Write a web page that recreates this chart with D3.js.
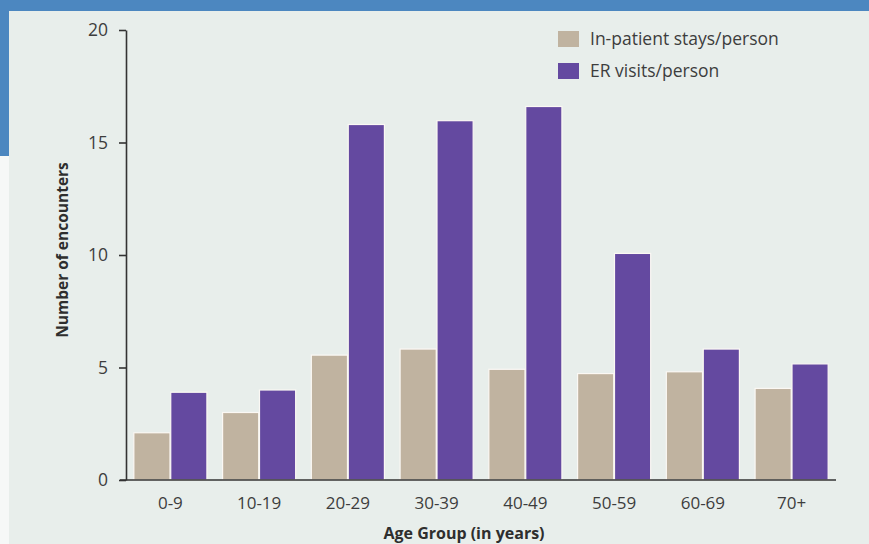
<!DOCTYPE html>
<html>
<head>
<meta charset="utf-8">
<script src="https://cdn.jsdelivr.net/npm/d3@7"></script>
<style>
  html, body { margin: 0; padding: 0; background: #f6f8f7; }
  svg { display: block; }
  text { font-family: "Open Sans", "Noto Sans", sans-serif; }
</style>
</head>
<body>
<svg id="chart" width="869" height="544"></svg>
<script>
// Healthcare encounters per person by age group
const ageGroups = ["0-9", "10-19", "20-29", "30-39", "40-49", "50-59", "60-69", "70+"];
const seriesNames = ["In-patient stays/person", "ER visits/person"];
const inpatientStays = [2.1, 3.0, 5.55, 5.82, 4.92, 4.73, 4.81, 4.07];
const erVisits = [3.9, 4.0, 15.8, 15.97, 16.6, 10.07, 5.82, 5.16];
const yTicks = [0, 5, 10, 15, 20];
const seriesColors = ["#c0b3a0", "#6449a0"];

const svg = d3.select("#chart");
const W = 869, H = 544;

// page frame: light panel with blue edge bands
svg.append("rect").attr("x", 9).attr("y", 0).attr("width", W - 9).attr("height", H).attr("fill", "#e8eeeb");
svg.append("rect").attr("x", 0).attr("y", 0).attr("width", W).attr("height", 11).attr("fill", "#4c87c0");
svg.append("rect").attr("x", 0).attr("y", 0).attr("width", 9).attr("height", 156).attr("fill", "#4c87c0");

const plot = { left: 126, right: 836, top: 30, bottom: 480 };

const x0 = d3.scaleBand().domain(ageGroups).range([plot.left, plot.right])
  .paddingInner(0.16).paddingOuter(0.08);
const x1 = d3.scaleBand().domain(seriesNames).range([0, x0.bandwidth()]).padding(0.02);
const y = d3.scaleLinear().domain([0, 20]).range([plot.bottom, plot.top]);

const rows = ageGroups.map((g, i) => ({ group: g, values: [inpatientStays[i], erVisits[i]] }));

// bars
const groups = svg.append("g").selectAll("g").data(rows).join("g")
  .attr("transform", d => `translate(${x0(d.group)},0)`);
groups.selectAll("rect")
  .data(d => d.values.map((v, k) => ({ key: seriesNames[k], value: v, k })))
  .join("rect")
  .attr("x", d => x1(d.key))
  .attr("y", d => y(d.value))
  .attr("width", x1.bandwidth())
  .attr("height", d => y(0) - y(d.value))
  .attr("fill", d => seriesColors[d.k])
  .attr("stroke", "#fbf8f4")
  .attr("stroke-width", 1.2);

// y axis
const yAxis = svg.append("g").attr("transform", `translate(${plot.left},0)`)
  .call(d3.axisLeft(y).tickValues(yTicks).tickSize(7).tickPadding(11).tickSizeOuter(0));
yAxis.select(".domain").attr("stroke", "#333").attr("stroke-width", 1.6);
yAxis.selectAll(".tick line").attr("stroke", "#333").attr("stroke-width", 1.6);
yAxis.selectAll(".tick text").attr("fill", "#3d3d3d").style("font-size", "17.5px");

// x axis
const xAxis = svg.append("g").attr("transform", `translate(0,${plot.bottom})`)
  .call(d3.axisBottom(x0).tickSize(0).tickPadding(17));
xAxis.select(".domain").attr("d", `M${plot.left - 6},0H${plot.right}`)
  .attr("stroke", "#333").attr("stroke-width", 1.6);
xAxis.selectAll(".tick text").attr("fill", "#3d3d3d").style("font-size", "17px");

// axis titles
svg.append("text")
  .attr("transform", `translate(68,250) rotate(-90)`)
  .attr("text-anchor", "middle")
  .attr("fill", "#2e2e2e")
  .style("font-size", "15.5px").style("font-weight", "bold")
  .text("Number of encounters");
svg.append("text")
  .attr("x", 464).attr("y", 539)
  .attr("text-anchor", "middle")
  .attr("fill", "#2e2e2e")
  .style("font-size", "16px").style("font-weight", "bold")
  .text("Age Group (in years)");

// legend
const legend = svg.append("g").selectAll("g").data(seriesNames).join("g")
  .attr("transform", (d, i) => `translate(558,${31 + i * 32})`);
legend.append("rect").attr("width", 21).attr("height", 16)
  .attr("fill", (d, i) => seriesColors[i]);
legend.append("text").attr("x", 32).attr("y", 14)
  .attr("fill", "#3d3d3d")
  .style("font-size", "17.5px")
  .text(d => d);
</script>
</body>
</html>
